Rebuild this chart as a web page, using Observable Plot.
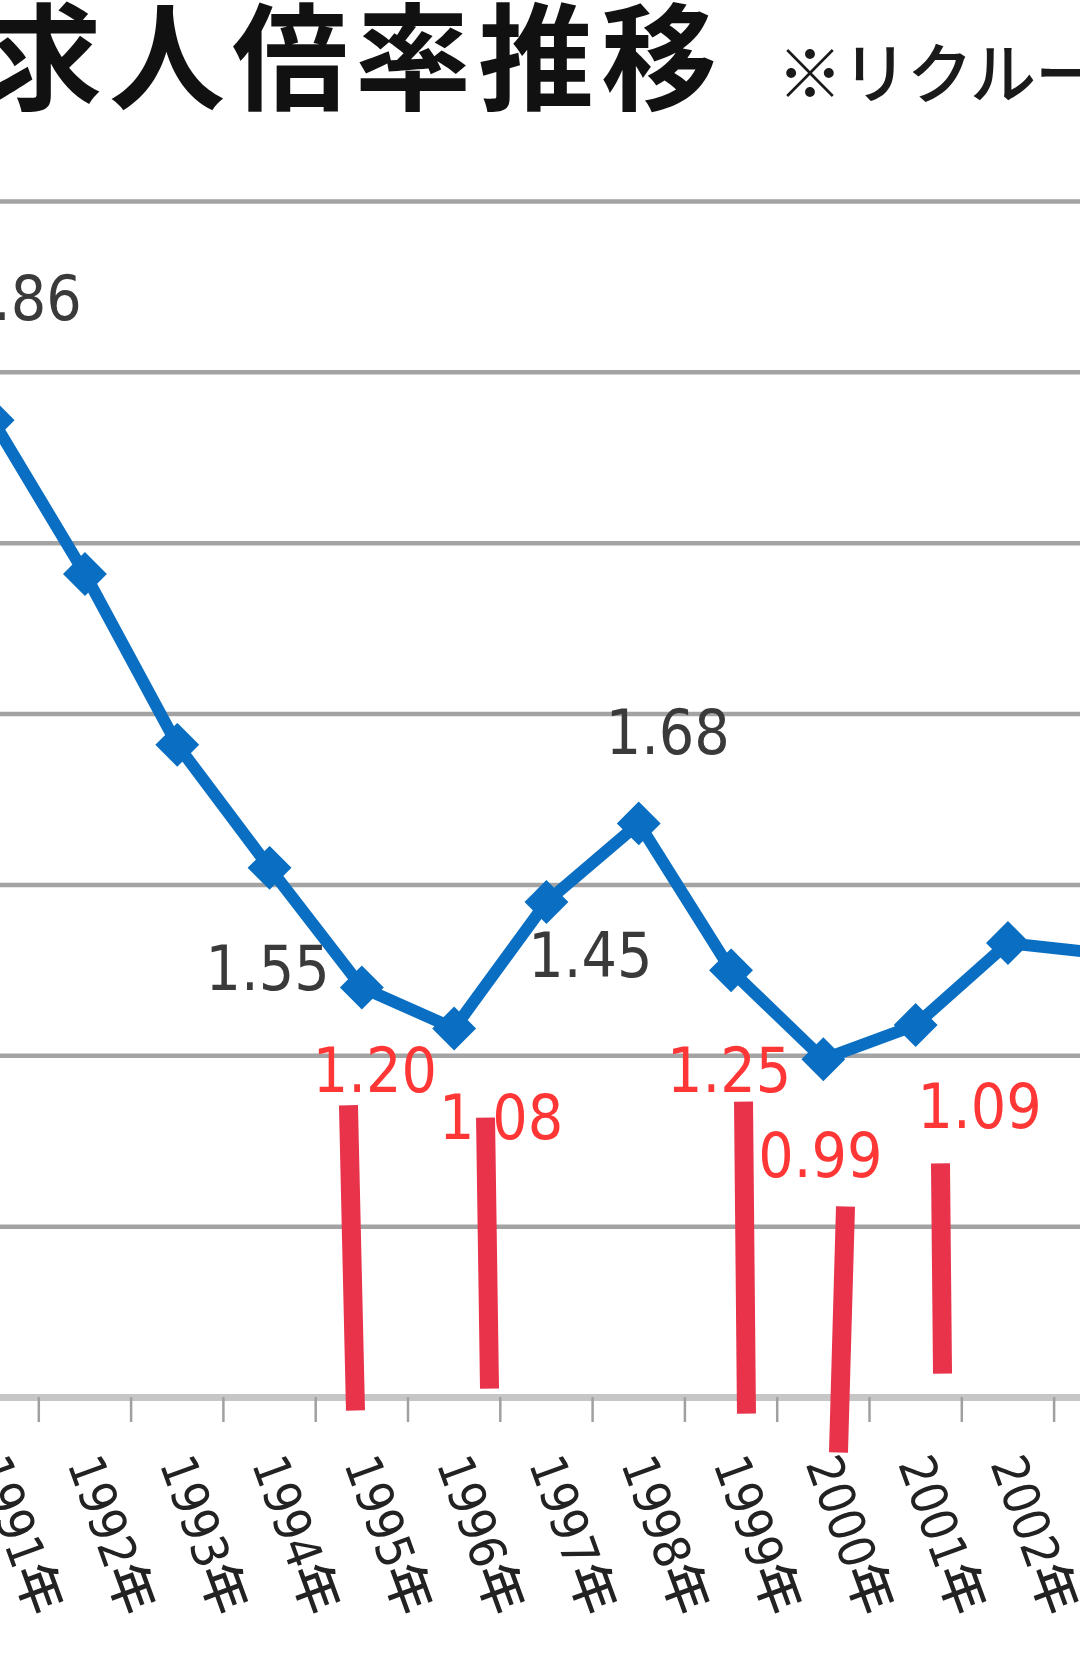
<!DOCTYPE html>
<html>
<head>
<meta charset="utf-8">
<script src="https://cdn.jsdelivr.net/npm/d3@7"></script>
<script src="https://cdn.jsdelivr.net/npm/@observablehq/plot@0.6"></script>
<style>
  html, body { margin: 0; padding: 0; background: #fff; }
  #wrap { position: relative; width: 1080px; height: 1655px; overflow: hidden; background: #fff; }
  #head { position: relative; width: 1080px; height: 150px; overflow: hidden; }
  #title { position: absolute; left: -14px; top: -8px; font-family: "Noto Sans CJK JP", sans-serif; font-weight: 700; font-size: 116px; line-height: 1; letter-spacing: 7px; white-space: nowrap; color: #111; }
  #subtitle { position: absolute; left: 777px; top: 36px; font-family: "Noto Sans CJK JP", sans-serif; font-weight: 500; font-size: 66px; line-height: 1; letter-spacing: -1px; white-space: nowrap; color: #1a1a1a; }
  #chart { width: 1080px; height: 1505px; overflow: hidden; }
  #chart svg { overflow: hidden; display: block; }
</style>
</head>
<body>
<div id="wrap">
  <div id="head">
    <div id="title">求人倍率推移</div>
    <div id="subtitle">※リクルートワークス研究所調べ</div>
  </div>
  <div id="chart"></div>
</div>
<script>
// ---- data ----
const years = [1991, 1992, 1993, 1994, 1995, 1996, 1997, 1998, 1999, 2000, 2001, 2002, 2003];
const ratios = [2.86, 2.41, 1.91, 1.55, 1.20, 1.08, 1.45, 1.68, 1.25, 0.99, 1.09, 1.33, 1.30];
const tickLabels = years.map(y => y + "年");
const labelYears = [1991, 1994, 1995, 1996, 1997, 1998, 1999, 2000, 2001];
const labelTexts = ["2.86", "1.55", "1.20", "1.08", "1.45", "1.68", "1.25", "0.99", "1.09"];
const highlightYears = [1995, 1996, 1999, 2000, 2001];
const gridValues = [0.5, 1.0, 1.5, 2.0, 2.5, 3.0, 3.5];
const tickBoundaries = [1990.5, 1991.5, 1992.5, 1993.5, 1994.5, 1995.5, 1996.5, 1997.5, 1998.5, 1999.5, 2000.5, 2001.5, 2002.5, 2003.5];
// hand-drawn red annotation strokes (year position, ratio value)
const markX1 = [1994.855, 1996.340, 1999.135, 2000.240, 2001.269];
const markY1 = [0.855, 0.819, 0.866, 0.559, 0.685];
const markX2 = [1994.931, 1996.383, 1999.167, 2000.164, 2001.291];
const markY2 = [-0.038, 0.026, -0.047, -0.161, 0.070];

// ---- layout / style ----
const labelOffsets = [[27, -120], [-2, 102], [13, 85], [47, 91], [44, 55], [29, -89], [-2, 102], [-3, 98], [64, 83]];
const blue = "#0a6fc2";
const labelFont = "'DejaVu Sans Condensed', 'DejaVu Sans', sans-serif";

const rows = years.map((y, i) => ({year: y, ratio: ratios[i]}));
const strokes = markX1.map((x, i) => ({x1: x, y1: markY1[i], x2: markX2[i], y2: markY2[i]}));

const labelMarks = labelYears.map((yr, i) => {
  const v = ratios[years.indexOf(yr)];
  const red = highlightYears.includes(yr);
  return Plot.text([{year: yr, ratio: v, t: labelTexts[i]}], {
    x: "year", y: "ratio", text: "t",
    dx: labelOffsets[i][0], dy: labelOffsets[i][1],
    fontSize: 62, fontFamily: labelFont, fontStretch: "condensed",
    fill: red ? "#ff3636" : "#3a3a3a",
    textAnchor: "middle", lineAnchor: "middle"
  });
});

const chart = Plot.plot({
  width: 1080,
  height: 1505,
  marginLeft: 0, marginRight: 0, marginTop: 51, marginBottom: 258,
  x: {type: "linear", domain: [1991, 2003], range: [-7.85, 1099.75], axis: null},
  y: {domain: [0, 3.5], axis: null},
  style: {background: "transparent", overflow: "hidden"},
  marks: [
    Plot.ruleY(gridValues, {stroke: "#a3a3a3", strokeWidth: 4.5}),
    Plot.ruleY([0], {stroke: "#c6c6c6", strokeWidth: 7}),
    Plot.ruleX(tickBoundaries, {x: d => d, y1: () => 0, y2: () => 0, insetTop: 0, insetBottom: -25, stroke: "#a0a0a0", strokeWidth: 2.5}),
    Plot.line(rows, {x: "year", y: "ratio", stroke: blue, strokeWidth: 12, strokeLinejoin: "round"}),
    Plot.dot(rows, {x: "year", y: "ratio", symbol: "diamond2", r: 18.5, fill: blue, stroke: blue, strokeWidth: 2}),
    ...labelMarks,
    Plot.text(years, {
      x: d => d, y: () => 0, text: (d, i) => tickLabels[i],
      rotate: 70, textAnchor: "start", lineAnchor: "bottom",
      dx: -18, dy: 66,
      fontSize: 50, fontWeight: 500, fontFamily: "'DejaVu Sans Condensed', 'DejaVu Sans', 'Noto Sans CJK JP', sans-serif",
      fontStretch: "condensed", fill: "#222"
    }),
    Plot.link(strokes, {x1: "x1", y1: "y1", x2: "x2", y2: "y2", stroke: "#e8334a", strokeWidth: 19, strokeLinecap: "butt"})
  ]
});
document.getElementById("chart").appendChild(chart);
</script>
</body>
</html>
